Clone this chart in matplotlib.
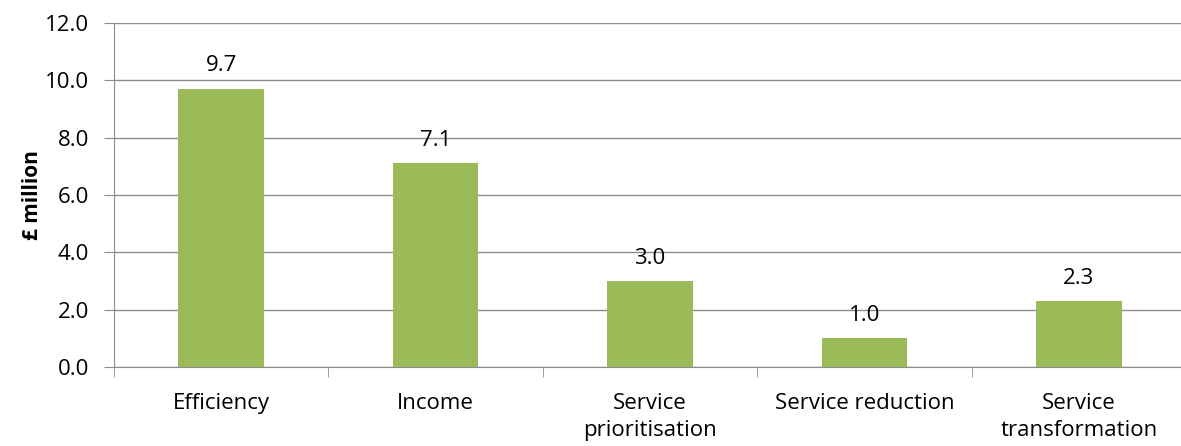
import matplotlib.pyplot as plt
import numpy as np

categories = ["Efficiency", "Income", "Service\nprioritisation",
              "Service reduction", "Service\ntransformation"]
values = [9.7, 7.1, 3.0, 1.0, 2.3]
yticks = [0, 2, 4, 6, 8, 10, 12]

plt.rcParams['font.family'] = ['Open Sans', 'DejaVu Sans']
fs = 16

W, H = 1181, 446
fig = plt.figure(figsize=(W / 100, H / 100), dpi=100)
left, right, top, bottom = 114, 1186, 23, 367
ax = fig.add_axes([left / W, 1 - bottom / H, (right - left) / W, (bottom - top) / H])

x = np.arange(len(categories))
bars = ax.bar(x, values, width=0.40, color="#9BBB59", zorder=3)
for xi, v in zip(x, values):
    ax.annotate(f"{v:.1f}", (xi, v), xytext=(0, 9), textcoords="offset points",
                ha="center", va="bottom", fontsize=fs)

ax.set_xlim(-0.5, len(categories) - 0.5)
ax.set_ylim(0, 12)
ax.set_yticks(yticks)
ax.set_yticklabels([f"{t:.1f}" for t in yticks], fontsize=fs)
ax.yaxis.grid(True, color="#8c8c8c", linewidth=1, zorder=0)

ax.set_xticks(x)
ax.set_xticklabels(categories, fontsize=fs, linespacing=1.35)
ax.set_xticks(np.arange(len(categories) + 1) - 0.5, minor=True)
ax.tick_params(axis="x", which="major", length=0, pad=19)
ax.tick_params(axis="x", which="minor", length=7, color="#8c8c8c", direction="out")
ax.tick_params(axis="y", length=7, color="#8c8c8c", pad=11)

for s in ["top", "right"]:
    ax.spines[s].set_visible(False)
for s in ["left", "bottom"]:
    ax.spines[s].set_color("#8c8c8c")

ax.set_ylabel("£ million", fontsize=15, fontweight="bold", labelpad=1)

fig.savefig("out.png", dpi=100)
